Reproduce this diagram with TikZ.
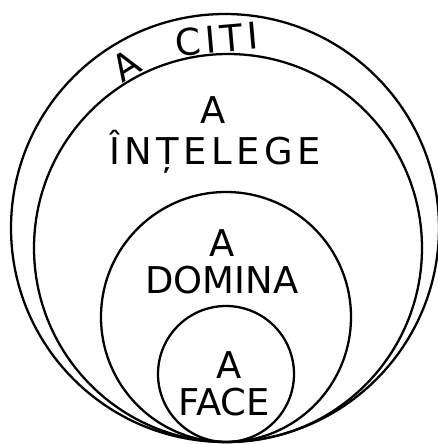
\documentclass[tikz,border=0pt]{standalone}
\usepackage{fontspec}
\setmainfont{DejaVu Sans}
\usepackage{tikz}
\usetikzlibrary{positioning}
\tikzset{
  every picture/.append style={line cap=round,line join=round},
  ring/.style={line width=1.3pt},
  word/.style={font=\fontsize{21}{24}\selectfont,inner sep=0pt,anchor=base},
  spaced/.style={font=\fontsize{21}{24}\selectfont\addfontfeatures{LetterSpace=12},inner sep=0pt,anchor=base}
}
\begin{document}
\begin{tikzpicture}[x=0.02cm, y=0.02cm]
  \useasboundingbox (0,0) rectangle (438,444);
  % nested circles, all touching at the bottom
  \draw[ring] (225,216) circle (214);
  \draw[ring] (228,196) circle (194);
  \draw[ring] (226,127) circle (125);
  \draw[ring] (226,70) circle (68);
  % labels
  \node[word, anchor=center, rotate=32] (citiA) at (126,379) {A};
  \node[spaced, anchor=center, rotate=5] (citi) at (217,405) {CITI};
  \node[word] (intelegeA) at (213,320) {A};
  \node[spaced] (intelege) at (215,279) {ÎNȚELEGE};
  \node[word] (dominaA) at (222,188) {A};
  \node[word] (domina) at (222,151) {DOMINA};
  \node[word] (faceA) at (229,66) {A};
  \node[word] (face) at (224,29) {FACE};
\end{tikzpicture}
\end{document}
